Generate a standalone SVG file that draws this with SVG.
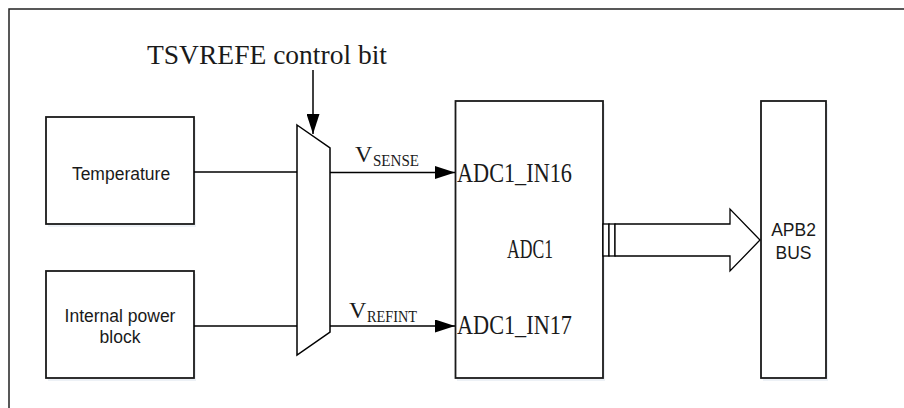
<svg xmlns="http://www.w3.org/2000/svg" width="904" height="408" viewBox="0 0 904 408">
  <style>
    .box { fill: #ffffff; stroke: #1a1a1a; stroke-width: 1.8; }
    .shadow { fill: #edf1f6; stroke: none; }
    .wire { fill: none; stroke: #000000; stroke-width: 1.5; }
    .sans { font-family: "Liberation Sans", Arial, sans-serif; font-size: 17.5px; fill: #1a1a1a; text-anchor: middle; }
    .mono { font-family: "Liberation Serif", "Times New Roman", serif; font-size: 28px; fill: #1a1a1a; }
    .lbl { font-family: "Liberation Serif", "Times New Roman", serif; font-size: 24px; fill: #1a1a1a; }
    .sub { font-size: 17px; }
  </style>
  <defs>
    <marker id="arr" markerUnits="userSpaceOnUse" markerWidth="20" markerHeight="13" refX="20" refY="6.5" orient="auto">
      <path d="M0,0 L20,6.5 L0,13 z" fill="#000000"/>
    </marker>
  </defs>

  <rect x="0" y="0" width="904" height="408" fill="#ffffff"/>
  <rect x="9" y="9" width="1000" height="1000" fill="none" stroke="#222222" stroke-width="1.5"/>

  <g id="temperature">
    <rect class="shadow" x="48" y="120" width="148" height="107"/>
    <rect class="box" x="46" y="117" width="148" height="107"/>
    <text class="sans" x="121" y="180">Temperature</text>
  </g>

  <g id="internal-power-block">
    <rect class="shadow" x="48" y="274" width="148" height="107"/>
    <rect class="box" x="46" y="271" width="148" height="107"/>
    <text class="sans" x="120" y="322">Internal power</text>
    <text class="sans" x="120" y="343">block</text>
  </g>

  <g id="mux">
    <polygon points="297,125 330,148 330,332 297,355" fill="#ffffff" stroke="#000000" stroke-width="1.5"/>
  </g>

  <g id="control-label">
    <text class="mono" x="147" y="64" textLength="240" lengthAdjust="spacingAndGlyphs">TSVREFE control bit</text>
  </g>

  <g id="adc1">
    <rect class="shadow" x="457" y="104" width="148" height="277"/>
    <rect class="box" x="455.5" y="101" width="147.5" height="277"/>
    <text class="mono" x="457" y="182" textLength="115" lengthAdjust="spacingAndGlyphs">ADC1_IN16</text>
    <text class="mono" x="507" y="258" textLength="46" lengthAdjust="spacingAndGlyphs">ADC1</text>
    <text class="mono" x="457" y="334" textLength="115" lengthAdjust="spacingAndGlyphs">ADC1_IN17</text>
  </g>

  <g id="apb2-bus">
    <rect class="shadow" x="763" y="104" width="65" height="277"/>
    <rect class="box" x="761" y="101" width="65" height="277"/>
    <text class="sans" x="793.5" y="236">APB2</text>
    <text class="sans" x="793.5" y="259">BUS</text>
  </g>

  <g id="connectors">
    <line class="wire" x1="313" y1="70" x2="313" y2="134" marker-end="url(#arr)"/>
    <line class="wire" x1="194" y1="172" x2="297" y2="172"/>
    <line class="wire" x1="194" y1="326" x2="297" y2="326"/>
    <line class="wire" x1="330" y1="172.5" x2="455" y2="172.5" marker-end="url(#arr)"/>
    <line class="wire" x1="330" y1="326" x2="455" y2="326" marker-end="url(#arr)"/>
    <rect x="603" y="224" width="6" height="32" fill="#ffffff" stroke="#000000" stroke-width="1.3"/>
    <rect x="609" y="224" width="6" height="32" fill="#ffffff" stroke="#000000" stroke-width="1.3"/>
    <polygon points="615,224 730,224 730,209 760,240 730,271 730,256 615,256" fill="#ffffff" stroke="#000000" stroke-width="1.3"/>
    <text class="lbl" x="355" y="162">V<tspan class="sub" x="373" y="166" textLength="46" lengthAdjust="spacingAndGlyphs">SENSE</tspan></text>
    <text class="lbl" x="349" y="318">V<tspan class="sub" x="367" y="322" textLength="50" lengthAdjust="spacingAndGlyphs">REFINT</tspan></text>
  </g>
</svg>
